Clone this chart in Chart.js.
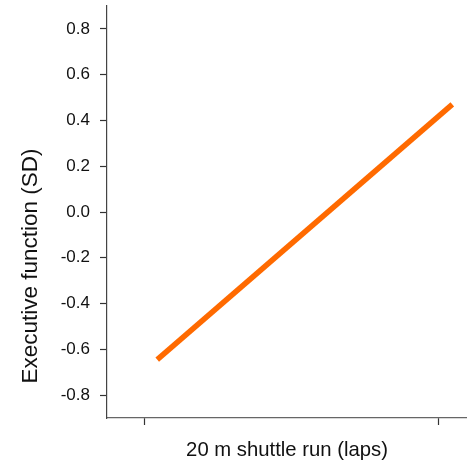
<!DOCTYPE html>
<html>
<head>
<meta charset="utf-8">
<style>
  html, body { margin: 0; padding: 0; background: #fff; }
  #wrap { width: 467px; height: 467px; }
</style>
<script src="https://cdn.jsdelivr.net/npm/chart.js@4/dist/chart.umd.min.js"></script>
</head>
<body>
<div id="wrap"><canvas id="c" width="467" height="467"></canvas></div>
<script>
// Fitted line: executive function against shuttle-run laps
const laps = [22.7, 82.9];
const executiveFunction = [-0.645, 0.47];
const xTickValues = [20, 80];
const yTickValues = [-0.8, -0.6, -0.4, -0.2, 0.0, 0.2, 0.4, 0.6, 0.8];
const xTitle = '20 m shuttle run (laps)';
const yTitle = 'Executive function (SD)';

const FONT = '"Liberation Sans", Arial, Helvetica, sans-serif';

// Rotated y-axis title placed beside the axis
const yTitlePlugin = {
  id: 'yTitle',
  afterDraw(chart) {
    const ctx = chart.ctx;
    ctx.save();
    ctx.translate(37, 266);
    ctx.rotate(-Math.PI / 2);
    ctx.font = '22.5px ' + FONT;
    ctx.fillStyle = '#111';
    ctx.textAlign = 'center';
    ctx.textBaseline = 'alphabetic';
    ctx.fillText(yTitle, 0, 0);
    ctx.restore();
  }
};

new Chart(document.getElementById('c'), {
  type: 'line',
  data: {
    datasets: [{
      data: laps.map((x, i) => ({ x: x, y: executiveFunction[i] })),
      borderColor: '#ff6a00',
      borderWidth: 5.5,
      pointRadius: 0,
      fill: false,
      tension: 0
    }]
  },
  options: {
    responsive: false,
    animation: false,
    layout: { padding: { top: 6, left: 0, right: 0, bottom: 0 } },
    plugins: { legend: { display: false }, tooltip: { enabled: false } },
    scales: {
      x: {
        type: 'linear',
        min: 12.45,
        max: 85.9,
        afterBuildTicks(scale) { scale.ticks = xTickValues.map(v => ({ value: v })); },
        afterFit(scale) {
          scale.height = 49;
          scale.paddingLeft = 0; scale.paddingRight = 0;
        },
        ticks: { callback: () => '', font: { size: 16, family: FONT } },
        grid: { drawOnChartArea: false, drawTicks: true, tickLength: 7, tickColor: '#333', tickWidth: 1.2 },
        border: { display: true, color: '#666', width: 1.2 },
        title: {
          display: true,
          text: xTitle,
          color: '#111',
          font: { size: 20.3, family: FONT },
          padding: { top: 0, bottom: 4 }
        }
      },
      y: {
        type: 'linear',
        min: -0.9,
        max: 0.9,
        afterBuildTicks(scale) { scale.ticks = yTickValues.map(v => ({ value: v })); },
        afterFit(scale) {
          scale.width = 107;
          scale.paddingTop = 0; scale.paddingBottom = 0;
        },
        ticks: {
          color: '#111',
          padding: 10,
          font: { size: 17, family: FONT },
          callback: v => v.toFixed(1)
        },
        grid: { drawOnChartArea: false, drawTicks: true, tickLength: 7, tickColor: '#333', tickWidth: 1.2 },
        border: { display: true, color: '#444', width: 1.2 }
      }
    }
  },
  plugins: [yTitlePlugin]
});
</script>
</body>
</html>
